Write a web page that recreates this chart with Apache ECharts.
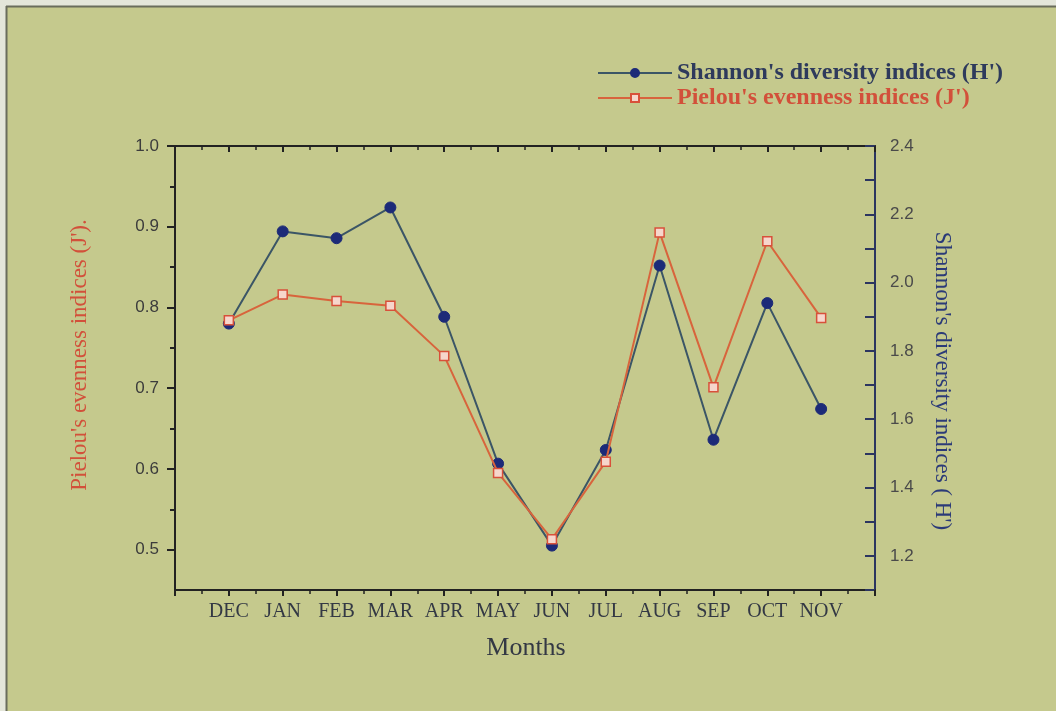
<!DOCTYPE html>
<html>
<head>
<meta charset="utf-8">
<script src="https://cdn.jsdelivr.net/npm/echarts@6/dist/echarts.min.js"></script>
<style>
html,body{margin:0;padding:0;background:#e6e6dc;}
#chart{width:1056px;height:711px;}
</style>
</head>
<body>
<div id="chart"></div>
<script>
var months = ['DEC','JAN','FEB','MAR','APR','MAY','JUN','JUL','AUG','SEP','OCT','NOV'];
var shannonH = [1.88, 2.15, 2.13, 2.22, 1.90, 1.47, 1.23, 1.51, 2.05, 1.54, 1.94, 1.63];
var pielouJ = [0.784, 0.816, 0.808, 0.802, 0.740, 0.595, 0.513, 0.609, 0.893, 0.701, 0.882, 0.787];
var leftTickLabels = [0.5, 0.6, 0.7, 0.8, 0.9, 1.0];
var leftMinorTicks = [0.55, 0.65, 0.75, 0.85, 0.95];
var rightTickLabels = [1.2, 1.4, 1.6, 1.8, 2.0, 2.2, 2.4];

var serif = '"Liberation Serif", "Times New Roman", serif';
var sans = '"Liberation Sans", Arial, sans-serif';

var chart = echarts.init(document.getElementById('chart'));
var grid = {left: 175, top: 146, width: 700, height: 444};

function pairs(arr){ return arr.map(function(v,i){ return [i+1, v]; }); }

var option = {
  backgroundColor: '#c5c98d',
  animation: false,
  grid: grid,
  graphic: [
    {type:'rect', left:0, top:0, shape:{width:1056, height:6}, style:{fill:'#e4e6da'}, z:-1},
    {type:'rect', left:0, top:0, shape:{width:6, height:711}, style:{fill:'#e4e6da'}, z:-1},
    {type:'line', shape:{x1:6, y1:6.5, x2:1056, y2:6.5}, style:{stroke:'#6a6d5c', lineWidth:2}},
    {type:'line', shape:{x1:6.5, y1:6, x2:6.5, y2:711}, style:{stroke:'#6a6d5c', lineWidth:2}},
    {type:'text', x:80, y:355, rotation: Math.PI/2,
      style:{text:"Pielou's evenness indices (J').", font:'23px ' + serif, fill:'#d2503a', textAlign:'center', textVerticalAlign:'middle'}},
    {type:'text', x:942, y:381, rotation: -Math.PI/2,
      style:{text:"Shannon's diversity indices ( H')", font:'23px ' + serif, fill:'#2b3a78', textAlign:'center', textVerticalAlign:'middle'}},
    {type:'text', x:526, y:648,
      style:{text:'Months', font:'26px ' + serif, fill:'#333844', textAlign:'center', textVerticalAlign:'middle'}}
  ],
  legend: {
    orient: 'vertical',
    left: 592, top: 56,
    itemWidth: 74, itemHeight: 10, itemGap: 1,
    textStyle: {fontFamily: serif, fontSize: 24, fontWeight: 'bold'},
    data: [
      {name: "Shannon's diversity indices (H')", textStyle: {color: '#2e3a5c'}},
      {name: "Pielou's evenness indices (J')", textStyle: {color: '#d2503a'}}
    ]
  },
  xAxis: [
    {
      type: 'value', min: 0, max: 13, interval: 1, position: 'bottom',
      axisLine: {show: true, lineStyle: {color: '#222', width: 2}},
      axisTick: {show: true, length: 6, lineStyle: {color: '#222', width: 2}},
      minorTick: {show: true, splitNumber: 2, length: 4, lineStyle: {color: '#222', width: 1.5}},
      splitLine: {show: false},
      axisLabel: {
        margin: 12, fontFamily: serif, fontSize: 20, color: '#333844',
        formatter: function(v){ var i = Math.round(v); return (i >= 1 && i <= months.length) ? months[i-1] : ''; }
      }
    },
    {
      type: 'value', min: 0, max: 13, interval: 1, position: 'top',
      axisLine: {show: true, lineStyle: {color: '#222', width: 2}},
      axisTick: {show: true, inside: true, length: 6, lineStyle: {color: '#222', width: 2}},
      minorTick: {show: true, splitNumber: 2, length: 4, lineStyle: {color: '#222', width: 1.5}},
      splitLine: {show: false},
      axisLabel: {show: false}
    }
  ],
  yAxis: [
    {
      type: 'value', min: 0.45, max: 1.0, position: 'left',
      axisLine: {show: true, lineStyle: {color: '#222', width: 2}},
      axisTick: {show: true, length: 8, customValues: leftTickLabels, lineStyle: {color: '#222', width: 2}},
      splitLine: {show: false},
      axisLabel: {
        customValues: leftTickLabels, margin: 16, fontFamily: sans, fontSize: 17, color: '#3c3c3c',
        formatter: function(v){ return v.toFixed(1); }
      }
    },
    {
      type: 'value', min: 0.45, max: 1.0, position: 'left',
      axisLine: {show: false},
      axisTick: {show: true, length: 5, customValues: leftMinorTicks, lineStyle: {color: '#222', width: 2}},
      splitLine: {show: false},
      axisLabel: {show: false}
    },
    {
      type: 'value', min: 1.1, max: 2.4, interval: 0.1, position: 'right',
      axisLine: {show: true, lineStyle: {color: '#2b3560', width: 2}},
      axisTick: {show: true, inside: true, length: 10, lineStyle: {color: '#2b3560', width: 2}},
      splitLine: {show: false},
      axisLabel: {
        customValues: rightTickLabels, margin: 15, fontFamily: sans, fontSize: 17, color: '#4a4a4a',
        formatter: function(v){ return v.toFixed(1); }
      }
    }
  ],
  series: [
    {
      name: "Shannon's diversity indices (H')", type: 'line', xAxisIndex: 0, yAxisIndex: 2,
      data: pairs(shannonH),
      symbol: 'circle', symbolSize: 11,
      lineStyle: {color: '#3b5566', width: 2},
      itemStyle: {color: '#1c2a78', borderColor: '#1c2a78', borderWidth: 1},
      z: 3
    },
    {
      name: "Pielou's evenness indices (J')", type: 'line', xAxisIndex: 0, yAxisIndex: 0,
      data: pairs(pielouJ),
      symbol: 'rect', symbolSize: 9,
      lineStyle: {color: '#d8643c', width: 2},
      itemStyle: {color: '#f6d6cc', borderColor: '#d8503a', borderWidth: 1.5},
      z: 4
    }
  ]
};
chart.setOption(option);
</script>
</body>
</html>
